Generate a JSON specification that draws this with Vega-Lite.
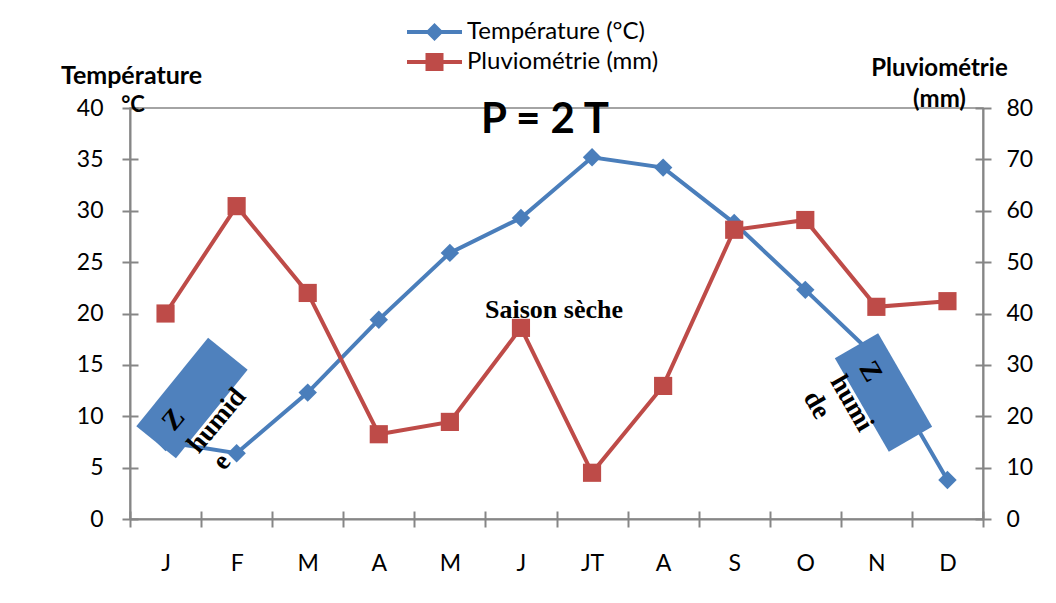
{
  "$schema": "https://vega.github.io/schema/vega-lite/v6.json",
  "width": 853,
  "height": 411,
  "autosize": {"type": "none"},
  "padding": {"left": 130, "top": 108, "right": 73, "bottom": 84},
  "background": "white",
  "config": {
    "font": "Lato",
    "view": {"stroke": "#868686", "strokeWidth": 1.5},
    "axis": {"labelFont": "Lato", "labelFontSize": 23, "labelColor": "#000000", "titleFont": "Lato", "titleColor": "#000000", "grid": false},
    "legend": {"labelFont": "Lato", "labelFontSize": 24, "labelColor": "#000000", "labelLimit": 400}
  },
  "data": {
    "values": [
      {"m": 0, "mois": "J", "temp": 7.5, "pluie": 40},
      {"m": 1, "mois": "F", "temp": 6.4, "pluie": 60.9},
      {"m": 2, "mois": "M", "temp": 12.3, "pluie": 44},
      {"m": 3, "mois": "A", "temp": 19.4, "pluie": 16.5},
      {"m": 4, "mois": "M", "temp": 25.9, "pluie": 18.9},
      {"m": 5, "mois": "J", "temp": 29.3, "pluie": 37.2},
      {"m": 6, "mois": "JT", "temp": 35.2, "pluie": 9},
      {"m": 7, "mois": "A", "temp": 34.2, "pluie": 25.9},
      {"m": 8, "mois": "S", "temp": 28.8, "pluie": 56.3},
      {"m": 9, "mois": "O", "temp": 22.3, "pluie": 58.2},
      {"m": 10, "mois": "N", "temp": 15.7, "pluie": 41.3},
      {"m": 11, "mois": "D", "temp": 3.8, "pluie": 42.4}
    ]
  },
  "layer": [
    {
      "mark": {"type": "line", "color": "#4A7EBB", "strokeWidth": 4, "point": {"shape": "diamond", "size": 340, "filled": true, "color": "#4A7EBB", "opacity": 1}},
      "encoding": {
        "x": {"field": "m", "type": "quantitative", "scale": {"domain": [-0.5, 11.5], "nice": false, "zero": false},
          "axis": {"orient": "bottom", "values": [0,1,2,3,4,5,6,7,8,9,10,11], "labelExpr": "['J','F','M','A','M','J','JT','A','S','O','N','D'][datum.value]", "ticks": false, "tickSize": 0, "labelPadding": 33, "labelBaseline": "top", "domain": true, "domainColor": "#868686", "domainWidth": 2, "title": null}},
        "y": {"field": "temp", "type": "quantitative", "scale": {"domain": [0, 40], "nice": false},
          "axis": {"orient": "left", "values": [0,5,10,15,20,25,30,35,40], "ticks": false, "tickSize": 0, "labelPadding": 27, "domain": true, "domainColor": "#868686", "domainWidth": 2,
            "title": "Température", "titleAngle": 0, "titleX": 1, "titleY": -33, "titleAlign": "center", "titleBaseline": "middle", "titleFontSize": 25, "titleFontWeight": "bold"}}
      }
    },
    {
      "mark": {"type": "line", "color": "#BE4B48", "strokeWidth": 4, "point": {"shape": "square", "size": 330, "filled": true, "color": "#BE4B48", "opacity": 1}},
      "encoding": {
        "x": {"field": "m", "type": "quantitative", "scale": {"domain": [-0.5, 11.5], "nice": false, "zero": false},
          "axis": {"orient": "bottom", "values": [-0.5,0.5,1.5,2.5,3.5,4.5,5.5,6.5,7.5,8.5,9.5,10.5,11.5], "labels": false, "domain": false, "ticks": true, "tickSize": 16, "offset": -8, "tickColor": "#868686", "tickWidth": 2, "title": null}},
        "y": {"field": "pluie", "type": "quantitative", "scale": {"domain": [0, 80], "nice": false},
          "axis": {"orient": "right", "values": [0,10,20,30,40,50,60,70,80], "ticks": false, "tickSize": 0, "labelPadding": 23, "domain": true, "domainColor": "#868686", "domainWidth": 2,
            "title": ["Pluviométrie", "(mm)"], "titleAngle": 0, "titleX": -44, "titleY": -52, "titleAlign": "center", "titleBaseline": "top", "titleLineHeight": 31, "titleFontSize": 24, "titleFontWeight": "bold"}}
      }
    },
    {
      "data": {"values": [{}]},
      "mark": {"type": "point", "shape": "M-1,-0.447L1,-0.447L1,0.447L-1,0.447Z", "size": 12996, "angle": 309, "filled": true, "color": "#4F81BD", "opacity": 1, "strokeWidth": 0},
      "encoding": {
        "x": {"datum": 0.372, "type": "quantitative", "scale": {"domain": [-0.5, 11.5], "nice": false, "zero": false}, "axis": null},
        "y": {"datum": 11.78, "type": "quantitative", "scale": {"domain": [0, 40], "nice": false},
          "axis": {"orient": "left", "values": [0,5,10,15,20,25,30,35,40], "labels": false, "domain": false, "ticks": true, "tickSize": 16, "offset": -8, "tickColor": "#868686", "tickWidth": 2, "title": null}}
      }
    },
    {
      "data": {"values": [{}]},
      "mark": {"type": "point", "shape": "M-1,-0.463L1,-0.463L1,0.463L-1,0.463Z", "size": 11664, "angle": 60, "filled": true, "color": "#4F81BD", "opacity": 1, "strokeWidth": 0},
      "encoding": {
        "x": {"datum": 10.1, "type": "quantitative", "scale": {"domain": [-0.5, 11.5], "nice": false, "zero": false}, "axis": null},
        "y": {"datum": 12.31, "type": "quantitative", "scale": {"domain": [0, 40], "nice": false}, "axis": null}
      }
    },
    {
      "data": {"values": [{}]},
      "mark": {"type": "text", "text": "Saison sèche", "font": "Liberation Serif", "fontWeight": "bold", "fontSize": 26, "color": "#000000", "align": "center", "baseline": "middle"},
      "encoding": {
        "x": {"datum": 5.465, "type": "quantitative", "scale": {"domain": [-0.5, 11.5], "nice": false, "zero": false}, "axis": null},
        "y": {"datum": 40.68, "type": "quantitative", "scale": {"domain": [0, 80], "nice": false},
          "axis": {"orient": "right", "values": [0,10,20,30,40,50,60,70,80], "labels": false, "domain": false, "ticks": true, "tickSize": 16, "offset": -8, "tickColor": "#868686", "tickWidth": 2, "title": null}}
      }
    },
    {
      "data": {"values": [{}]},
      "mark": {"type": "text", "text": "P = 2 T", "font": "Lato", "fontWeight": "bold", "fontSize": 42, "color": "#000000", "align": "center", "baseline": "middle"},
      "encoding": {
        "x": {"datum": 5.338, "type": "quantitative", "scale": {"domain": [-0.5, 11.5], "nice": false, "zero": false}, "axis": null},
        "y": {"datum": 38.83, "type": "quantitative", "scale": {"domain": [0, 40], "nice": false}, "axis": null}
      }
    },
    {
      "data": {"values": [{}]},
      "mark": {"type": "text", "text": "°C", "font": "Lato", "fontWeight": "bold", "fontSize": 22, "color": "#000000", "align": "center", "baseline": "middle"},
      "encoding": {
        "x": {"datum": -0.458, "type": "quantitative", "scale": {"domain": [-0.5, 11.5], "nice": false, "zero": false}, "axis": null},
        "y": {"datum": 40.29, "type": "quantitative", "scale": {"domain": [0, 40], "nice": false}, "axis": null}
      }
    },
    {
      "data": {"values": [{}]},
      "mark": {"type": "text", "text": "Z", "font": "Liberation Serif", "fontWeight": "bold", "fontSize": 28, "color": "#000000", "align": "center", "baseline": "middle", "angle": 310},
      "encoding": {
        "x": {"datum": 0.119, "type": "quantitative", "scale": {"domain": [-0.5, 11.5], "nice": false, "zero": false}, "axis": null},
        "y": {"datum": 9.63, "type": "quantitative", "scale": {"domain": [0, 40], "nice": false}, "axis": null}
      }
    },
    {
      "data": {"values": [{}]},
      "mark": {"type": "text", "text": "humid", "font": "Liberation Serif", "fontWeight": "bold", "fontSize": 27, "color": "#000000", "align": "center", "baseline": "middle", "angle": 310},
      "encoding": {
        "x": {"datum": 0.72, "type": "quantitative", "scale": {"domain": [-0.5, 11.5], "nice": false, "zero": false}, "axis": null},
        "y": {"datum": 9.57, "type": "quantitative", "scale": {"domain": [0, 40], "nice": false}, "axis": null}
      }
    },
    {
      "data": {"values": [{}]},
      "mark": {"type": "text", "text": "e", "font": "Liberation Serif", "fontWeight": "bold", "fontSize": 27, "color": "#000000", "align": "center", "baseline": "middle", "angle": 310},
      "encoding": {
        "x": {"datum": 0.79, "type": "quantitative", "scale": {"domain": [-0.5, 11.5], "nice": false, "zero": false}, "axis": null},
        "y": {"datum": 5.58, "type": "quantitative", "scale": {"domain": [0, 40], "nice": false}, "axis": null}
      }
    },
    {
      "data": {"values": [{}]},
      "mark": {"type": "text", "text": "Z", "font": "Liberation Serif", "fontWeight": "bold", "fontSize": 28, "color": "#000000", "align": "center", "baseline": "middle", "angle": 60},
      "encoding": {
        "x": {"datum": 9.911, "type": "quantitative", "scale": {"domain": [-0.5, 11.5], "nice": false, "zero": false}, "axis": null},
        "y": {"datum": 14.34, "type": "quantitative", "scale": {"domain": [0, 40], "nice": false}, "axis": null}
      }
    },
    {
      "data": {"values": [{}]},
      "mark": {"type": "text", "text": "humi", "font": "Liberation Serif", "fontWeight": "bold", "fontSize": 27, "color": "#000000", "align": "center", "baseline": "middle", "angle": 60},
      "encoding": {
        "x": {"datum": 9.653, "type": "quantitative", "scale": {"domain": [-0.5, 11.5], "nice": false, "zero": false}, "axis": null},
        "y": {"datum": 11.26, "type": "quantitative", "scale": {"domain": [0, 40], "nice": false}, "axis": null}
      }
    },
    {
      "data": {"values": [{}]},
      "mark": {"type": "text", "text": "de", "font": "Liberation Serif", "fontWeight": "bold", "fontSize": 27, "color": "#000000", "align": "center", "baseline": "middle", "angle": 60},
      "encoding": {
        "x": {"datum": 9.161, "type": "quantitative", "scale": {"domain": [-0.5, 11.5], "nice": false, "zero": false}, "axis": null},
        "y": {"datum": 11.1, "type": "quantitative", "scale": {"domain": [0, 40], "nice": false}, "axis": null}
      }
    },
    {
      "data": {"values": [{"serie": "Température (°C)"}, {"serie": "Pluviométrie (mm)"}]},
      "mark": {"type": "point", "filled": true, "opacity": 1, "clip": true, "strokeWidth": 0},
      "encoding": {
        "x": {"datum": 0, "type": "quantitative", "scale": {"domain": [-0.5, 11.5], "nice": false, "zero": false}, "axis": null},
        "y": {"datum": -50, "type": "quantitative", "scale": {"domain": [0, 40], "nice": false}, "axis": null},
        "color": {"field": "serie", "type": "nominal",
          "scale": {"domain": ["Température (°C)", "Pluviométrie (mm)"], "range": ["#4A7EBB", "#BE4B48"]},
          "legend": {"title": null, "orient": "none", "legendX": 310, "legendY": -88, "symbolSize": 400, "symbolStrokeWidth": 0, "labelOffset": 3, "rowPadding": 6, "padding": 0, "labelLimit": 400}},
        "shape": {"field": "serie", "type": "nominal",
          "scale": {"domain": ["Température (°C)", "Pluviométrie (mm)"], "range": ["M-4.5,-0.2H1V0.2H-4.5Z M-2.65,0L-1.75,-0.9L-0.85,0L-1.75,0.9Z", "M-4.5,-0.2H1V0.2H-4.5Z M-2.65,-0.9H-0.85V0.9H-2.65Z"]},
          "legend": {"title": null, "orient": "none", "legendX": 310, "legendY": -88, "symbolSize": 400, "symbolStrokeWidth": 0, "labelOffset": 3, "rowPadding": 6, "padding": 0, "labelLimit": 400}}
      }
    }
  ],
  "resolve": {"scale": {"y": "independent"}, "axis": {"x": "independent", "y": "independent"}}
}
